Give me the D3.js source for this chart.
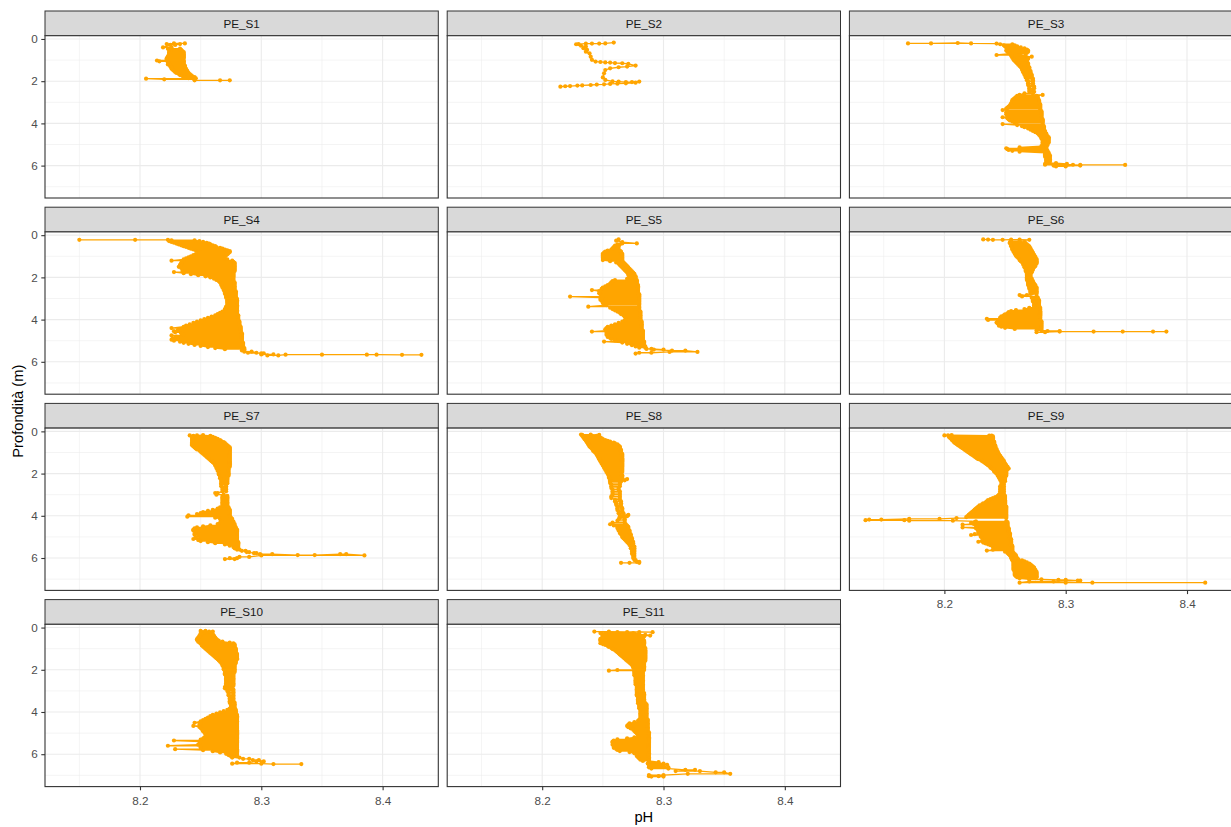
<!DOCTYPE html>
<html>
<head>
<meta charset="utf-8">
<script src="https://cdn.jsdelivr.net/npm/d3@7"></script>
<style>
  body { margin: 0; background: #fff; }
  svg { display: block; }
  text { font-family: "Liberation Sans", Arial, sans-serif; }
</style>
</head>
<body>
<svg id="chart"></svg>
<script>
// Station names, one facet each
const stations = ["PE_S1","PE_S2","PE_S3","PE_S4","PE_S5","PE_S6","PE_S7","PE_S8","PE_S9","PE_S10","PE_S11"];

// Cast records in acquisition order: [depth (m), pH, pH, ...]
// Each row lists the pH readings logged at that depth, in sequence.
const PE_S1 = [[0.21,8.237,8.228],[0.24,8.222,8.233],[0.28,8.229,8.225],[0.40,8.219,8.226],[0.46,8.223,8.233],[0.52,8.234,8.224],[0.57,8.225,8.235],[0.62,8.236,8.224],[0.67,8.224,8.236],[0.72,8.236,8.224],[0.77,8.224,8.236],[0.82,8.236,8.223],[0.87,8.223,8.236],[0.92,8.236,8.222],[0.97,8.222,8.235],[1.02,8.236,8.214],[1.06,8.216,8.236],[1.11,8.236,8.223],[1.16,8.224,8.236],[1.21,8.236,8.223],[1.26,8.225,8.237],[1.31,8.237,8.225],[1.36,8.226,8.237],[1.41,8.238,8.226],[1.46,8.227,8.238],[1.51,8.239,8.228],[1.56,8.229,8.239],[1.61,8.240,8.230],[1.66,8.232,8.241],[1.71,8.242,8.233],[1.76,8.235,8.243],[1.81,8.245,8.237],[1.86,8.240,8.246],[1.88,8.245,8.205],[1.91,8.220,8.245],[1.96,8.245,8.266,8.274]];

const PE_S2 = [[0.17,8.259],[0.21,8.252],[0.22,8.247],[0.22,8.241],[0.22,8.236],[0.24,8.230],[0.25,8.228],[0.32,8.232],[0.36,8.236],[0.44,8.234],[0.52,8.237],[0.60,8.236],[0.68,8.239],[0.84,8.240],[0.99,8.241],[1.07,8.244],[1.09,8.248],[1.11,8.252],[1.12,8.256],[1.14,8.260],[1.15,8.266],[1.18,8.271],[1.26,8.277],[1.31,8.270],[1.34,8.263],[1.39,8.256],[1.47,8.252],[1.63,8.251],[1.82,8.250],[1.94,8.252],[2.01,8.258],[2.02,8.263],[2.04,8.269],[2.04,8.274],[2.02,8.280],[2.07,8.277],[2.10,8.269],[2.12,8.262],[2.13,8.256],[2.15,8.251],[2.16,8.245],[2.18,8.240],[2.20,8.233],[2.21,8.229],[2.23,8.223],[2.24,8.219],[2.26,8.215]];

const PE_S3 = [[0.21,8.170,8.189],[0.19,8.211],[0.21,8.222],[0.22,8.243],[0.25,8.246,8.256],[0.30,8.258,8.249],[0.35,8.250,8.260],[0.40,8.263,8.251],[0.45,8.252,8.266],[0.50,8.268,8.252],[0.55,8.251,8.269],[0.60,8.269,8.252],[0.65,8.253,8.268],[0.70,8.267,8.254],[0.76,8.243,8.262],[0.80,8.267,8.255],[0.84,8.256,8.272],[0.89,8.269,8.256],[0.94,8.257,8.269],[0.99,8.268,8.257],[1.04,8.258,8.268],[1.10,8.268,8.259],[1.16,8.260,8.269],[1.22,8.269,8.261],[1.28,8.262,8.269],[1.34,8.270,8.263],[1.40,8.264,8.270],[1.46,8.270,8.264],[1.52,8.265,8.271],[1.58,8.271,8.265],[1.64,8.266,8.271],[1.70,8.272,8.266],[1.76,8.267,8.272],[1.82,8.272,8.267],[1.88,8.268,8.273],[1.95,8.273,8.268],[2.02,8.269,8.273],[2.10,8.273,8.269],[2.18,8.269,8.273],[2.26,8.274,8.270],[2.34,8.270,8.274],[2.42,8.273,8.270],[2.50,8.270,8.274],[2.58,8.273,8.266],[2.65,8.262,8.281],[2.70,8.276,8.260],[2.75,8.259,8.277],[2.80,8.277,8.258],[2.85,8.257,8.277],[2.90,8.278,8.256],[2.95,8.256,8.278],[3.00,8.278,8.256],[3.05,8.255,8.278],[3.10,8.279,8.255],[3.15,8.254,8.279],[3.20,8.279,8.253],[3.25,8.252,8.279],[3.30,8.279,8.251],[3.37,8.248,8.279],[3.42,8.280,8.252],[3.47,8.251,8.280],[3.52,8.280,8.252],[3.57,8.251,8.280],[3.62,8.280,8.252],[3.67,8.252,8.280],[3.71,8.280,8.248],[3.76,8.252,8.280],[3.81,8.281,8.253],[3.86,8.254,8.281],[3.91,8.281,8.256],[3.96,8.258,8.281],[4.03,8.281,8.248],[4.08,8.260,8.281],[4.13,8.282,8.264],[4.18,8.266,8.282],[4.24,8.282,8.269],[4.30,8.271,8.282],[4.36,8.283,8.273],[4.42,8.275,8.283],[4.48,8.284,8.277],[4.54,8.278,8.284],[4.60,8.285,8.279],[4.66,8.280,8.286],[4.72,8.286,8.280],[4.78,8.281,8.286],[4.84,8.286,8.281],[4.90,8.281,8.286],[4.96,8.285,8.281],[5.02,8.281,8.285],[5.08,8.284,8.280],[5.14,8.262,8.284],[5.18,8.284,8.251],[5.22,8.252,8.284],[5.26,8.284,8.253],[5.30,8.256,8.285],[5.34,8.285,8.262],[5.40,8.283,8.286],[5.46,8.286,8.283],[5.52,8.283,8.287],[5.58,8.287,8.283],[5.64,8.284,8.287],[5.70,8.287,8.284],[5.76,8.284,8.287],[5.82,8.287,8.284],[5.88,8.284,8.292],[5.92,8.301,8.283],[5.96,8.283,8.306],[6.00,8.312,8.290],[6.04,8.292,8.300],[5.97,8.312,8.349]];

const PE_S4 = [[0.22,8.150,8.196,8.223],[0.24,8.226,8.245],[0.28,8.249,8.224],[0.32,8.226,8.252],[0.36,8.255,8.228],[0.40,8.230,8.257],[0.44,8.258,8.232],[0.48,8.234,8.260],[0.52,8.262,8.236],[0.56,8.238,8.263],[0.60,8.266,8.240],[0.64,8.242,8.268],[0.68,8.270,8.244],[0.72,8.246,8.272],[0.76,8.274,8.248],[0.80,8.250,8.274],[0.85,8.273,8.248],[0.90,8.246,8.272],[0.95,8.271,8.244],[1.00,8.242,8.270],[1.05,8.269,8.240],[1.10,8.238,8.270],[1.15,8.272,8.236],[1.21,8.226,8.276],[1.26,8.277,8.236],[1.31,8.234,8.278],[1.36,8.278,8.234],[1.41,8.233,8.278],[1.46,8.278,8.233],[1.50,8.232,8.278],[1.55,8.278,8.234],[1.60,8.235,8.278],[1.65,8.278,8.236],[1.70,8.235,8.278],[1.75,8.277,8.228],[1.80,8.236,8.277],[1.85,8.277,8.242],[1.90,8.248,8.277],[1.95,8.277,8.254],[2.00,8.258,8.277],[2.06,8.277,8.261],[2.12,8.263,8.277],[2.18,8.277,8.265],[2.24,8.266,8.278],[2.30,8.278,8.267],[2.36,8.267,8.278],[2.42,8.278,8.268],[2.48,8.268,8.278],[2.54,8.278,8.269],[2.60,8.269,8.278],[2.66,8.279,8.270],[2.72,8.270,8.279],[2.78,8.279,8.270],[2.84,8.271,8.279],[2.90,8.279,8.271],[2.96,8.271,8.279],[3.02,8.280,8.272],[3.08,8.272,8.280],[3.14,8.280,8.272],[3.20,8.272,8.280],[3.26,8.280,8.272],[3.32,8.272,8.280],[3.38,8.280,8.271],[3.44,8.271,8.280],[3.50,8.280,8.270],[3.56,8.270,8.280],[3.62,8.280,8.268],[3.68,8.266,8.280],[3.74,8.280,8.264],[3.80,8.262,8.281],[3.86,8.281,8.259],[3.92,8.256,8.281],[3.98,8.281,8.253],[4.04,8.250,8.281],[4.10,8.282,8.247],[4.16,8.244,8.282],[4.22,8.282,8.241],[4.28,8.238,8.282],[4.34,8.283,8.236],[4.40,8.226,8.283],[4.45,8.283,8.232],[4.50,8.231,8.283],[4.55,8.283,8.228],[4.60,8.229,8.283],[4.65,8.284,8.234],[4.70,8.236,8.284],[4.75,8.284,8.226],[4.80,8.230,8.284],[4.85,8.284,8.229],[4.90,8.227,8.284],[4.95,8.284,8.226],[5.00,8.228,8.284],[5.05,8.284,8.233],[5.10,8.236,8.285],[5.15,8.285,8.240],[5.20,8.245,8.285],[5.25,8.285,8.250],[5.30,8.256,8.285],[5.35,8.286,8.262],[5.40,8.270,8.286],[5.46,8.286,8.284],[5.52,8.286,8.292],[5.57,8.296,8.289],[5.60,8.302,8.300],[5.65,8.300,8.310],[5.70,8.305,8.314],[5.66,8.320,8.350],[5.66,8.387,8.395],[5.67,8.416,8.432]];

const PE_S5 = [[0.20,8.263],[0.26,8.261],[0.33,8.266],[0.39,8.278,8.266],[0.44,8.262,8.264],[0.50,8.260,8.263],[0.56,8.263,8.259],[0.62,8.258,8.262],[0.68,8.263,8.257],[0.73,8.254,8.264],[0.78,8.265,8.252],[0.83,8.251,8.265],[0.88,8.266,8.250],[0.93,8.250,8.266],[0.98,8.266,8.250],[1.03,8.250,8.266],[1.08,8.266,8.250],[1.13,8.251,8.266],[1.18,8.266,8.250],[1.23,8.256,8.266],[1.29,8.267,8.261],[1.35,8.263,8.268],[1.41,8.269,8.264],[1.47,8.265,8.270],[1.53,8.271,8.266],[1.59,8.267,8.272],[1.65,8.273,8.268],[1.71,8.269,8.274],[1.77,8.275,8.270],[1.83,8.271,8.276],[1.89,8.276,8.271],[1.95,8.272,8.277],[2.01,8.277,8.272],[2.07,8.270,8.277],[2.13,8.278,8.260],[2.18,8.258,8.278],[2.24,8.278,8.257],[2.30,8.256,8.278],[2.36,8.279,8.254],[2.42,8.252,8.279],[2.48,8.279,8.250],[2.54,8.249,8.279],[2.60,8.279,8.241],[2.65,8.247,8.279],[2.70,8.279,8.248],[2.75,8.247,8.279],[2.80,8.280,8.248],[2.86,8.250,8.280],[2.91,8.280,8.223],[2.96,8.248,8.280],[3.01,8.280,8.249],[3.06,8.248,8.280],[3.11,8.280,8.249],[3.16,8.250,8.280],[3.21,8.280,8.250],[3.26,8.251,8.280],[3.31,8.280,8.253],[3.39,8.238,8.280],[3.44,8.280,8.256],[3.50,8.258,8.280],[3.56,8.280,8.260],[3.62,8.262,8.281],[3.68,8.281,8.264],[3.74,8.265,8.281],[3.80,8.281,8.267],[3.86,8.268,8.281],[3.92,8.281,8.269],[3.98,8.269,8.281],[4.04,8.281,8.268],[4.10,8.266,8.282],[4.16,8.282,8.263],[4.22,8.260,8.282],[4.28,8.282,8.257],[4.34,8.254,8.282],[4.40,8.282,8.253],[4.46,8.252,8.282],[4.52,8.283,8.253],[4.57,8.241,8.283],[4.62,8.283,8.253],[4.67,8.254,8.283],[4.72,8.283,8.253],[4.77,8.255,8.283],[4.82,8.283,8.254],[4.87,8.256,8.283],[4.92,8.283,8.257],[4.98,8.260,8.283],[5.04,8.284,8.251],[5.09,8.266,8.284],[5.15,8.284,8.270],[5.21,8.274,8.284],[5.27,8.285,8.277],[5.33,8.280,8.285],[5.39,8.286,8.290],[5.42,8.300,8.292],[5.47,8.307,8.318],[5.53,8.328,8.305],[5.57,8.290,8.280],[5.61,8.277]];

const PE_S6 = [[0.20,8.232],[0.21,8.236],[0.22,8.240,8.248],[0.21,8.255,8.262],[0.22,8.270],[0.28,8.262,8.255],[0.33,8.254,8.266],[0.38,8.267,8.254],[0.43,8.255,8.268],[0.48,8.269,8.255],[0.53,8.255,8.270],[0.58,8.270,8.256],[0.63,8.256,8.271],[0.68,8.271,8.256],[0.73,8.257,8.272],[0.78,8.272,8.257],[0.83,8.258,8.273],[0.88,8.273,8.258],[0.93,8.259,8.274],[0.98,8.274,8.259],[1.03,8.260,8.275],[1.08,8.275,8.261],[1.13,8.262,8.276],[1.18,8.276,8.262],[1.23,8.263,8.276],[1.28,8.276,8.264],[1.34,8.265,8.276],[1.40,8.275,8.265],[1.46,8.266,8.275],[1.52,8.274,8.266],[1.58,8.267,8.273],[1.64,8.273,8.267],[1.70,8.267,8.272],[1.76,8.272,8.268],[1.82,8.268,8.271],[1.88,8.271,8.268],[1.94,8.268,8.271],[2.00,8.271,8.268],[2.06,8.268,8.272],[2.12,8.272,8.268],[2.18,8.269,8.273],[2.24,8.273,8.269],[2.30,8.269,8.274],[2.36,8.275,8.269],[2.42,8.270,8.275],[2.48,8.276,8.270],[2.54,8.270,8.276],[2.60,8.276,8.271],[2.66,8.271,8.276],[2.72,8.276,8.271],[2.78,8.271,8.276],[2.84,8.268,8.262],[2.90,8.264,8.276],[2.96,8.277,8.272],[3.02,8.273,8.277],[3.08,8.278,8.273],[3.14,8.273,8.278],[3.20,8.278,8.274],[3.26,8.274,8.278],[3.32,8.278,8.274],[3.38,8.274,8.278],[3.44,8.279,8.270],[3.50,8.266,8.279],[3.55,8.279,8.259],[3.60,8.255,8.279],[3.65,8.279,8.253],[3.70,8.252,8.279],[3.75,8.279,8.250],[3.80,8.249,8.279],[3.85,8.279,8.247],[3.90,8.246,8.279],[3.96,8.279,8.235],[4.02,8.236,8.279],[4.08,8.280,8.244],[4.14,8.243,8.280],[4.19,8.280,8.244],[4.24,8.245,8.280],[4.29,8.280,8.245],[4.34,8.247,8.280],[4.39,8.280,8.250],[4.44,8.258,8.280],[4.50,8.280,8.276],[4.54,8.285,8.295],[4.60,8.283,8.276],[4.57,8.295,8.323,8.347,8.372,8.383]];

const PE_S7 = [[0.19,8.241,8.247],[0.18,8.252],[0.21,8.258,8.244],[0.26,8.243,8.260],[0.31,8.262,8.243],[0.36,8.243,8.264],[0.41,8.266,8.243],[0.46,8.243,8.267],[0.51,8.269,8.243],[0.56,8.243,8.270],[0.61,8.271,8.243],[0.66,8.243,8.272],[0.71,8.273,8.244],[0.76,8.245,8.274],[0.81,8.274,8.246],[0.86,8.247,8.274],[0.91,8.274,8.249],[0.96,8.250,8.274],[1.01,8.274,8.251],[1.06,8.252,8.274],[1.11,8.274,8.253],[1.16,8.254,8.274],[1.21,8.274,8.255],[1.26,8.256,8.274],[1.31,8.274,8.257],[1.36,8.258,8.274],[1.41,8.274,8.259],[1.46,8.260,8.274],[1.51,8.274,8.261],[1.56,8.262,8.274],[1.62,8.274,8.262],[1.68,8.263,8.274],[1.74,8.273,8.263],[1.80,8.264,8.273],[1.86,8.273,8.264],[1.92,8.265,8.273],[1.98,8.273,8.265],[2.04,8.265,8.273],[2.10,8.273,8.266],[2.16,8.266,8.272],[2.22,8.272,8.266],[2.28,8.267,8.272],[2.34,8.272,8.267],[2.40,8.267,8.272],[2.46,8.272,8.267],[2.52,8.267,8.271],[2.60,8.271,8.267],[2.68,8.268,8.271],[2.76,8.271,8.268],[2.84,8.268,8.271],[2.92,8.262,8.264],[3.00,8.263,8.269],[3.06,8.272,8.268],[3.12,8.268,8.272],[3.18,8.272,8.268],[3.24,8.268,8.272],[3.30,8.272,8.268],[3.36,8.268,8.272],[3.42,8.272,8.268],[3.48,8.268,8.272],[3.54,8.272,8.268],[3.60,8.266,8.273],[3.66,8.273,8.264],[3.72,8.260,8.274],[3.77,8.274,8.256],[3.82,8.252,8.274],[3.87,8.274,8.250],[3.92,8.247,8.274],[3.98,8.274,8.240],[4.04,8.239,8.274],[4.09,8.275,8.262],[4.15,8.266,8.276],[4.21,8.276,8.267],[4.27,8.267,8.277],[4.33,8.277,8.266],[4.39,8.264,8.278],[4.45,8.278,8.258],[4.50,8.252,8.278],[4.55,8.279,8.247],[4.60,8.245,8.279],[4.65,8.280,8.244],[4.70,8.244,8.280],[4.75,8.280,8.248],[4.80,8.246,8.280],[4.85,8.280,8.245],[4.90,8.245,8.280],[4.95,8.280,8.248],[5.00,8.250,8.280],[5.05,8.280,8.246],[5.10,8.244,8.280],[5.15,8.280,8.248],[5.20,8.250,8.280],[5.25,8.281,8.256],[5.30,8.262,8.281],[5.36,8.281,8.270],[5.42,8.274,8.281],[5.48,8.281,8.277],[5.54,8.278,8.281],[5.60,8.282,8.280],[5.66,8.284,8.287],[5.72,8.290,8.288],[5.77,8.294,8.296],[5.82,8.299,8.309],[5.86,8.330,8.344],[5.82,8.365,8.370],[5.88,8.385,8.300],[5.95,8.290,8.282],[6.01,8.280,8.274],[6.05,8.270,8.278]];

const PE_S8 = [[0.15,8.232,8.240],[0.17,8.247,8.233],[0.21,8.233,8.245],[0.25,8.246,8.234],[0.29,8.234,8.248],[0.33,8.249,8.235],[0.37,8.235,8.250],[0.41,8.252,8.236],[0.45,8.236,8.254],[0.49,8.256,8.237],[0.53,8.237,8.259],[0.57,8.260,8.238],[0.62,8.238,8.262],[0.67,8.263,8.239],[0.72,8.239,8.264],[0.77,8.264,8.240],[0.82,8.241,8.264],[0.87,8.265,8.242],[0.92,8.242,8.265],[0.97,8.265,8.243],[1.02,8.244,8.265],[1.07,8.266,8.245],[1.12,8.245,8.266],[1.17,8.266,8.246],[1.22,8.246,8.266],[1.27,8.266,8.247],[1.32,8.247,8.266],[1.37,8.266,8.248],[1.42,8.248,8.266],[1.47,8.266,8.249],[1.52,8.249,8.266],[1.57,8.266,8.250],[1.62,8.250,8.266],[1.67,8.266,8.251],[1.72,8.251,8.266],[1.77,8.266,8.252],[1.82,8.252,8.266],[1.87,8.266,8.253],[1.92,8.253,8.266],[1.97,8.265,8.254],[2.02,8.254,8.265],[2.08,8.266,8.255],[2.14,8.255,8.266],[2.20,8.266,8.255],[2.26,8.256,8.270],[2.32,8.268,8.256],[2.38,8.256,8.265],[2.45,8.264,8.256],[2.52,8.257,8.264],[2.60,8.264,8.257],[2.68,8.257,8.263],[2.76,8.263,8.258],[2.84,8.258,8.264],[2.92,8.264,8.258],[3.00,8.258,8.264],[3.08,8.264,8.257],[3.16,8.257,8.264],[3.24,8.264,8.260],[3.32,8.260,8.265],[3.40,8.265,8.261],[3.48,8.261,8.265],[3.56,8.265,8.262],[3.64,8.262,8.266],[3.72,8.266,8.262],[3.80,8.263,8.266],[3.88,8.267,8.263],[3.96,8.264,8.271],[4.02,8.270,8.264],[4.08,8.264,8.268],[4.16,8.268,8.263],[4.24,8.262,8.268],[4.32,8.268,8.258],[4.40,8.256,8.269],[4.46,8.270,8.259],[4.52,8.262,8.271],[4.58,8.271,8.262],[4.64,8.263,8.271],[4.70,8.272,8.263],[4.76,8.264,8.272],[4.82,8.272,8.264],[4.88,8.265,8.273],[4.94,8.273,8.266],[5.00,8.266,8.273],[5.06,8.274,8.267],[5.12,8.268,8.274],[5.18,8.274,8.269],[5.24,8.270,8.275],[5.30,8.275,8.271],[5.38,8.272,8.275],[5.46,8.276,8.273],[5.54,8.273,8.276],[5.62,8.276,8.274],[5.70,8.274,8.276],[5.80,8.276,8.274],[5.90,8.275,8.276],[6.00,8.276,8.275],[6.10,8.276,8.277],[6.18,8.278,8.280],[6.23,8.280,8.272,8.265]];

const PE_S9 = [[0.19,8.200,8.203],[0.18,8.206],[0.20,8.237,8.239],[0.24,8.240,8.204],[0.28,8.204,8.240],[0.32,8.240,8.205],[0.36,8.206,8.240],[0.40,8.240,8.206],[0.44,8.207,8.240],[0.48,8.241,8.208],[0.52,8.208,8.241],[0.56,8.241,8.209],[0.60,8.210,8.241],[0.64,8.241,8.211],[0.68,8.212,8.242],[0.72,8.242,8.213],[0.76,8.214,8.242],[0.80,8.242,8.215],[0.84,8.216,8.243],[0.88,8.243,8.217],[0.92,8.218,8.243],[0.96,8.244,8.219],[1.00,8.220,8.244],[1.04,8.244,8.221],[1.08,8.222,8.245],[1.12,8.245,8.223],[1.16,8.224,8.246],[1.20,8.246,8.225],[1.24,8.226,8.247],[1.28,8.247,8.227],[1.32,8.228,8.248],[1.36,8.248,8.230],[1.40,8.231,8.249],[1.44,8.249,8.232],[1.48,8.233,8.249],[1.52,8.250,8.234],[1.56,8.235,8.250],[1.60,8.251,8.236],[1.64,8.237,8.251],[1.68,8.252,8.238],[1.72,8.238,8.252],[1.76,8.253,8.239],[1.80,8.240,8.252],[1.85,8.251,8.241],[1.90,8.241,8.251],[1.95,8.251,8.242],[2.00,8.243,8.251],[2.05,8.251,8.244],[2.10,8.244,8.251],[2.15,8.250,8.245],[2.20,8.245,8.250],[2.25,8.250,8.246],[2.30,8.246,8.250],[2.36,8.250,8.247],[2.44,8.247,8.249],[2.52,8.249,8.247],[2.60,8.246,8.249],[2.68,8.249,8.246],[2.76,8.246,8.249],[2.84,8.249,8.246],[2.92,8.246,8.249],[3.00,8.249,8.245],[3.06,8.244,8.250],[3.11,8.250,8.242],[3.16,8.240,8.250],[3.21,8.250,8.238],[3.26,8.236,8.250],[3.31,8.250,8.235],[3.36,8.234,8.250],[3.41,8.250,8.232],[3.46,8.231,8.250],[3.51,8.250,8.229],[3.56,8.228,8.251],[3.61,8.251,8.227],[3.66,8.226,8.251],[3.71,8.251,8.225],[3.76,8.224,8.251],[3.81,8.251,8.223],[3.86,8.222,8.251],[3.91,8.251,8.221],[3.96,8.220,8.251],[4.01,8.251,8.219],[4.06,8.218,8.251],[4.11,8.251,8.210],[4.15,8.196,8.171],[4.18,8.148,8.138],[4.21,8.135,8.167],[4.23,8.171,8.207],[4.26,8.226,8.251],[4.30,8.252,8.225],[4.34,8.222,8.252],[4.38,8.252,8.224],[4.42,8.215,8.252],[4.46,8.252,8.226],[4.50,8.227,8.252],[4.55,8.252,8.215],[4.59,8.226,8.253],[4.63,8.253,8.227],[4.67,8.228,8.253],[4.71,8.253,8.228],[4.75,8.229,8.253],[4.79,8.253,8.228],[4.83,8.229,8.254],[4.87,8.254,8.225],[4.91,8.222,8.254],[4.95,8.254,8.230],[4.99,8.230,8.254],[5.03,8.254,8.231],[5.07,8.232,8.254],[5.11,8.255,8.232],[5.15,8.233,8.255],[5.19,8.255,8.231],[5.23,8.228,8.255],[5.27,8.255,8.232],[5.31,8.234,8.255],[5.35,8.255,8.236],[5.39,8.238,8.255],[5.43,8.256,8.240],[5.47,8.240,8.256],[5.51,8.256,8.242],[5.56,8.244,8.256],[5.61,8.256,8.240],[5.65,8.235,8.256],[5.70,8.256,8.250],[5.76,8.252,8.257],[5.82,8.258,8.253],[5.88,8.254,8.259],[5.94,8.259,8.255],[6.00,8.255,8.260],[6.06,8.261,8.256],[6.11,8.256,8.264],[6.16,8.266,8.257],[6.21,8.257,8.268],[6.26,8.270,8.257],[6.31,8.257,8.271],[6.36,8.272,8.257],[6.41,8.257,8.273],[6.46,8.274,8.257],[6.51,8.257,8.274],[6.56,8.275,8.257],[6.61,8.258,8.275],[6.66,8.276,8.258],[6.71,8.258,8.276],[6.76,8.276,8.258],[6.81,8.258,8.276],[6.86,8.276,8.259],[6.91,8.260,8.276],[6.96,8.275,8.262],[7.01,8.270,8.280],[7.04,8.294,8.300],[7.07,8.310,8.312],[7.11,8.290,8.270],[7.17,8.262,8.300,8.322,8.415]];

const PE_S10 = [[0.16,8.250,8.254],[0.19,8.257,8.260],[0.23,8.253,8.251],[0.27,8.250,8.259],[0.31,8.260,8.251],[0.35,8.250,8.260],[0.39,8.261,8.249],[0.43,8.249,8.261],[0.47,8.262,8.248],[0.51,8.248,8.262],[0.55,8.263,8.247],[0.59,8.247,8.264],[0.63,8.265,8.248],[0.67,8.248,8.268],[0.71,8.274,8.249],[0.75,8.250,8.277],[0.80,8.278,8.251],[0.85,8.251,8.278],[0.90,8.278,8.252],[0.95,8.253,8.278],[1.00,8.279,8.254],[1.05,8.255,8.279],[1.10,8.279,8.256],[1.15,8.257,8.279],[1.20,8.279,8.258],[1.25,8.259,8.280],[1.30,8.280,8.260],[1.35,8.261,8.280],[1.40,8.280,8.262],[1.45,8.263,8.280],[1.50,8.280,8.264],[1.56,8.265,8.279],[1.62,8.279,8.266],[1.68,8.267,8.279],[1.74,8.278,8.268],[1.80,8.268,8.278],[1.86,8.278,8.269],[1.92,8.269,8.278],[1.98,8.278,8.269],[2.04,8.270,8.278],[2.10,8.278,8.270],[2.16,8.270,8.277],[2.22,8.277,8.270],[2.28,8.271,8.277],[2.34,8.277,8.271],[2.40,8.271,8.277],[2.46,8.277,8.271],[2.52,8.271,8.277],[2.58,8.277,8.271],[2.64,8.271,8.277],[2.70,8.277,8.271],[2.76,8.271,8.277],[2.82,8.270,8.276],[2.88,8.276,8.270],[2.94,8.272,8.277],[3.00,8.277,8.272],[3.07,8.273,8.277],[3.14,8.277,8.273],[3.21,8.273,8.277],[3.28,8.277,8.274],[3.35,8.274,8.277],[3.42,8.277,8.274],[3.49,8.274,8.277],[3.56,8.278,8.274],[3.63,8.275,8.278],[3.70,8.278,8.275],[3.77,8.275,8.278],[3.84,8.278,8.274],[3.90,8.272,8.279],[3.96,8.279,8.269],[4.02,8.266,8.279],[4.08,8.279,8.263],[4.14,8.260,8.280],[4.20,8.280,8.258],[4.26,8.256,8.280],[4.32,8.280,8.254],[4.38,8.252,8.280],[4.44,8.280,8.250],[4.51,8.245,8.280],[4.56,8.280,8.250],[4.61,8.249,8.280],[4.66,8.280,8.244],[4.71,8.249,8.280],[4.76,8.280,8.250],[4.81,8.251,8.280],[4.86,8.280,8.252],[4.91,8.252,8.280],[4.96,8.280,8.253],[5.01,8.254,8.280],[5.06,8.280,8.254],[5.11,8.255,8.280],[5.16,8.280,8.254],[5.21,8.253,8.280],[5.26,8.280,8.252],[5.31,8.250,8.280],[5.35,8.280,8.228],[5.40,8.250,8.280],[5.45,8.280,8.250],[5.50,8.249,8.280],[5.55,8.280,8.248],[5.60,8.223,8.280],[5.65,8.280,8.250],[5.70,8.250,8.280],[5.76,8.280,8.229],[5.81,8.252,8.280],[5.86,8.280,8.260],[5.92,8.266,8.280],[5.98,8.280,8.271],[6.04,8.273,8.280],[6.10,8.280,8.275],[6.16,8.276,8.282],[6.22,8.285,8.290],[6.28,8.293,8.298],[6.34,8.302,8.296],[6.40,8.290,8.280],[6.45,8.276,8.300],[6.47,8.310,8.333]];

const PE_S11 = [[0.19,8.243,8.255],[0.21,8.270,8.280],[0.22,8.291,8.262],[0.26,8.248,8.275],[0.30,8.280,8.249],[0.34,8.250,8.285],[0.38,8.289,8.251],[0.42,8.252,8.284],[0.46,8.283,8.250],[0.50,8.249,8.283],[0.54,8.283,8.248],[0.58,8.248,8.283],[0.62,8.284,8.248],[0.66,8.249,8.284],[0.70,8.284,8.249],[0.74,8.248,8.284],[0.78,8.284,8.250],[0.82,8.252,8.284],[0.87,8.284,8.254],[0.92,8.255,8.284],[0.97,8.285,8.257],[1.02,8.258,8.285],[1.07,8.285,8.260],[1.12,8.261,8.285],[1.17,8.285,8.262],[1.22,8.263,8.285],[1.27,8.285,8.264],[1.32,8.265,8.285],[1.37,8.285,8.266],[1.42,8.267,8.285],[1.47,8.285,8.268],[1.52,8.269,8.285],[1.57,8.285,8.270],[1.62,8.271,8.284],[1.67,8.284,8.272],[1.72,8.273,8.284],[1.77,8.284,8.274],[1.83,8.275,8.284],[1.89,8.284,8.275],[1.95,8.276,8.284],[2.01,8.284,8.262],[2.04,8.255,8.276],[2.08,8.283,8.276],[2.14,8.276,8.283],[2.20,8.283,8.276],[2.26,8.276,8.283],[2.32,8.283,8.277],[2.38,8.277,8.283],[2.44,8.283,8.277],[2.50,8.277,8.283],[2.56,8.283,8.277],[2.62,8.277,8.283],[2.68,8.283,8.277],[2.74,8.278,8.283],[2.80,8.283,8.278],[2.86,8.278,8.283],[2.92,8.283,8.278],[2.98,8.278,8.283],[3.04,8.283,8.278],[3.10,8.278,8.284],[3.16,8.284,8.278],[3.22,8.278,8.284],[3.28,8.284,8.279],[3.34,8.279,8.284],[3.40,8.284,8.279],[3.46,8.279,8.284],[3.52,8.284,8.279],[3.58,8.279,8.285],[3.64,8.286,8.280],[3.70,8.280,8.286],[3.76,8.286,8.280],[3.82,8.280,8.286],[3.88,8.286,8.281],[3.94,8.281,8.286],[4.00,8.286,8.281],[4.06,8.281,8.286],[4.12,8.286,8.281],[4.18,8.281,8.286],[4.24,8.286,8.281],[4.30,8.281,8.286],[4.36,8.287,8.280],[4.42,8.279,8.287],[4.48,8.287,8.276],[4.54,8.272,8.287],[4.60,8.287,8.271],[4.66,8.270,8.287],[4.72,8.287,8.271],[4.78,8.273,8.287],[4.84,8.287,8.275],[4.90,8.276,8.287],[4.96,8.288,8.277],[5.02,8.278,8.288],[5.08,8.288,8.279],[5.14,8.279,8.288],[5.20,8.288,8.276],[5.25,8.270,8.288],[5.30,8.288,8.262],[5.35,8.259,8.288],[5.40,8.288,8.258],[5.45,8.258,8.288],[5.50,8.288,8.259],[5.55,8.258,8.288],[5.60,8.288,8.259],[5.65,8.260,8.288],[5.70,8.288,8.259],[5.75,8.261,8.288],[5.80,8.288,8.262],[5.85,8.264,8.288],[5.90,8.288,8.272],[5.96,8.276,8.288],[6.02,8.288,8.278],[6.08,8.278,8.288],[6.14,8.288,8.279],[6.20,8.280,8.288],[6.26,8.288,8.281],[6.32,8.283,8.288],[6.38,8.296,8.288],[6.44,8.287,8.300],[6.50,8.303,8.290],[6.56,8.288,8.300],[6.62,8.304,8.288],[6.68,8.290,8.304],[6.74,8.318,8.326],[6.80,8.310,8.330],[6.86,8.343,8.350],[6.93,8.355,8.320],[6.99,8.300,8.288],[7.04,8.288,8.296],[7.06,8.300,8.290]];

// Axis breaks
const xMajor = [8.2, 8.3, 8.4];
const xMinor = [8.15, 8.25, 8.35, 8.45];
const yMajor = [0, 2, 4, 6];
const yMinor = [1, 3, 5, 7];

const casts = {PE_S1, PE_S2, PE_S3, PE_S4, PE_S5, PE_S6, PE_S7, PE_S8, PE_S9, PE_S10, PE_S11};

// Expand each cast row into ordered (pH, depth) samples
const samples = rows => rows.flatMap(r => r.slice(1).map(p => [p, r[0]]));

// Page and facet geometry
const W = 1231, H = 827;
const nCol = 3;
const left0 = 45, colPitch = 402.2, pw = 393.3;
const top0 = 11, rowPitch = 196.2, stripH = 24.7, ph = 162.3;

const svg = d3.select("#chart").attr("width", W).attr("height", H);
svg.append("rect").attr("width", W).attr("height", H).attr("fill", "#fff");

// Shared scales (fixed across facets), depth increasing downward
const x = d3.scaleLinear().domain([8.1217, 8.4459]).range([0, pw]);
const y = d3.scaleLinear().domain([-0.155, 7.535]).range([0, ph]);

const line = d3.line().x(d => x(d[0])).y(d => y(d[1]));
const ORANGE = "#FFA500";

stations.forEach((name, i) => {
  const col = i % nCol, row = Math.floor(i / nCol);
  const px = left0 + col * colPitch;
  const stripTop = top0 + row * rowPitch;
  const py = stripTop + stripH;

  // strip
  const s = svg.append("g").attr("transform", `translate(${px},${stripTop})`);
  s.append("rect").attr("width", pw).attr("height", stripH)
    .attr("fill", "#d9d9d9").attr("stroke", "#333").attr("stroke-width", 1);
  s.append("text").attr("x", pw / 2).attr("y", stripH / 2).attr("dy", "0.36em")
    .attr("text-anchor", "middle").attr("font-size", "11.7px").attr("fill", "#1a1a1a")
    .text(name);

  // panel
  const g = svg.append("g").attr("transform", `translate(${px},${py})`);
  g.append("rect").attr("width", pw).attr("height", ph).attr("fill", "#fff");

  const clipId = "clip" + i;
  g.append("clipPath").attr("id", clipId)
    .append("rect").attr("width", pw).attr("height", ph);
  const inner = g.append("g").attr("clip-path", `url(#${clipId})`);

  // grid
  inner.selectAll(".gxm").data(xMinor).join("line")
    .attr("x1", d => x(d)).attr("x2", d => x(d)).attr("y1", 0).attr("y2", ph)
    .attr("stroke", "#ebebeb").attr("stroke-width", 0.55);
  inner.selectAll(".gym").data(yMinor).join("line")
    .attr("y1", d => y(d)).attr("y2", d => y(d)).attr("x1", 0).attr("x2", pw)
    .attr("stroke", "#ebebeb").attr("stroke-width", 0.55);
  inner.selectAll(".gx").data(xMajor).join("line")
    .attr("x1", d => x(d)).attr("x2", d => x(d)).attr("y1", 0).attr("y2", ph)
    .attr("stroke", "#ebebeb").attr("stroke-width", 1.1);
  inner.selectAll(".gy").data(yMajor).join("line")
    .attr("y1", d => y(d)).attr("y2", d => y(d)).attr("x1", 0).attr("x2", pw)
    .attr("stroke", "#ebebeb").attr("stroke-width", 1.1);

  // profile path and points
  const data = samples(casts[name]);
  inner.append("path").datum(data).attr("d", line)
    .attr("fill", "none").attr("stroke", ORANGE).attr("stroke-width", 1.3)
    .attr("stroke-linejoin", "round");
  inner.selectAll("circle").data(data).join("circle")
    .attr("cx", d => x(d[0])).attr("cy", d => y(d[1])).attr("r", 2.1)
    .attr("fill", ORANGE);

  // border
  g.append("rect").attr("width", pw).attr("height", ph)
    .attr("fill", "none").attr("stroke", "#333").attr("stroke-width", 1.1);

  // y axis on first column
  if (col === 0) {
    const ya = g.append("g").call(d3.axisLeft(y).tickValues(yMajor).tickSize(3.7).tickPadding(3.5).tickFormat(d3.format("d")));
    ya.select(".domain").remove();
    ya.selectAll("line").attr("stroke", "#333").attr("stroke-width", 1.1);
    ya.selectAll("text").attr("font-size", "11.7px").attr("fill", "#4d4d4d")
      .attr("font-family", "Liberation Sans, Arial, sans-serif");
  }
  // x axis on panels with nothing below
  if (i + nCol >= stations.length) {
    const xa = g.append("g").attr("transform", `translate(0,${ph})`)
      .call(d3.axisBottom(x).tickValues(xMajor).tickSize(3.7).tickPadding(6).tickFormat(d3.format(".1f")));
    xa.select(".domain").remove();
    xa.selectAll("line").attr("stroke", "#333").attr("stroke-width", 1.1);
    xa.selectAll("text").attr("font-size", "11.7px").attr("fill", "#4d4d4d")
      .attr("font-family", "Liberation Sans, Arial, sans-serif");
  }
});

// axis titles
const fullW = 2 * colPitch + pw;
svg.append("text").attr("x", left0 + fullW / 2).attr("y", 822)
  .attr("text-anchor", "middle").attr("font-size", "14.7px").attr("fill", "#000")
  .text("pH");
const plotMid = (top0 + stripH + top0 + 3 * rowPitch + stripH + ph) / 2;
svg.append("text")
  .attr("transform", `translate(23,${plotMid}) rotate(-90)`)
  .attr("text-anchor", "middle").attr("font-size", "14.7px").attr("fill", "#000")
  .text("Profondità (m)");
</script>
</body>
</html>
